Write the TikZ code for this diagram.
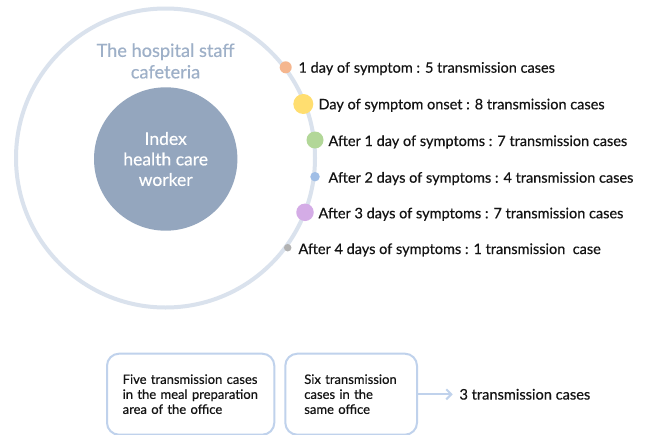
\documentclass[tikz,border=0pt]{standalone}
\usepackage{fontspec}
\setmainfont{Lato}[FakeBold=0.45]
\usetikzlibrary{arrows.meta}
\definecolor{ring}{RGB}{218,226,237}
\definecolor{core}{RGB}{148,166,190}
\definecolor{cafe}{RGB}{158,176,200}
\definecolor{cA}{RGB}{245,182,142}
\definecolor{cB}{RGB}{255,222,112}
\definecolor{cC}{RGB}{178,215,152}
\definecolor{cD}{RGB}{160,190,230}
\definecolor{cE}{RGB}{212,172,230}
\definecolor{cF}{RGB}{178,178,178}
\definecolor{boxline}{RGB}{192,210,236}
\definecolor{ink}{RGB}{20,20,20}
\begin{document}
\begin{tikzpicture}[x=1pt,y=-1pt,
  dotnode/.style={circle,inner sep=0pt,outer sep=0pt},
  lbl/.style={anchor=base west,inner sep=0pt,text=ink,font=\fontsize{14.5}{17}\selectfont},
  casebox/.style={draw=boxline,line width=2pt,rounded corners=12pt,minimum height=81pt,
    align=left,text=ink,font=\fontsize{13}{15}\selectfont,anchor=north west}]
\useasboundingbox (0,0) rectangle (648,434);
\fill[white] (0,0) rectangle (648,434);
\node[draw=ring,line width=4pt,circle,minimum size=299pt,inner sep=0pt] (outer) at (165.5,158) {};
\node[circle,fill=core,minimum size=143.4pt,inner sep=0pt,text=white,align=center,
  font=\fontsize{17.5}{20.5}\selectfont] (index) at (165.7,159) {Index\\health care\\worker};
\node[text=cafe,align=center,font=\fontsize{18.2}{21.5}\selectfont] (cafeteria) at (165.5,61) {The hospital staff\\cafeteria};
\node[dotnode,fill=cA,minimum size=12pt] (d1) at (285.7,67.3) {};
\node[dotnode,fill=cB,minimum size=20pt] (d2) at (303.3,104) {};
\node[dotnode,fill=cC,minimum size=17pt] (d3) at (315,140) {};
\node[dotnode,fill=cD,minimum size=9.5pt] (d4) at (315,176.7) {};
\node[dotnode,fill=cE,minimum size=17.5pt] (d5) at (305,212.3) {};
\node[dotnode,fill=cF,minimum size=7.5pt] (d6) at (287.7,247.7) {};
\node[lbl] (l1) at (298.3,72.7) {1 day of symptom : 5 transmission cases};
\node[lbl] (l2) at (318.3,109.3) {Day of symptom onset : 8 transmission cases};
\node[lbl] (l3) at (328.3,146) {After 1 day of symptoms : 7 transmission cases};
\node[lbl] (l4) at (328.3,182.7) {After 2 days of symptoms : 4 transmission cases};
\node[lbl] (l5) at (318.3,218.3) {After 3 days of symptoms : 7 transmission cases};
\node[lbl] (l6) at (298.3,254) {After 4 days of symptoms : 1 transmission\ \ case};
\node[casebox,minimum width=167.3pt,text width=135.9pt,inner xsep=15.7pt] (b1) at (106,352.7)
  {Five transmission cases\\in the meal preparation\\area of the office};
\node[casebox,minimum width=131.7pt,text width=93.7pt,inner xsep=19pt] (b2) at (284.3,352.7)
  {Six transmission\\cases in the\\same office};
\node[anchor=west,inner xsep=6.6pt,inner ysep=0pt,text=ink,font=\fontsize{14.6}{17}\selectfont] (out) at (452.7,394.3) {3 transmission cases};
\draw[boxline,line width=2pt,-{Straight Barb[length=5pt,width=10pt]}] (b2.east |- out.west) -- (out.west);
\end{tikzpicture}
\end{document}
